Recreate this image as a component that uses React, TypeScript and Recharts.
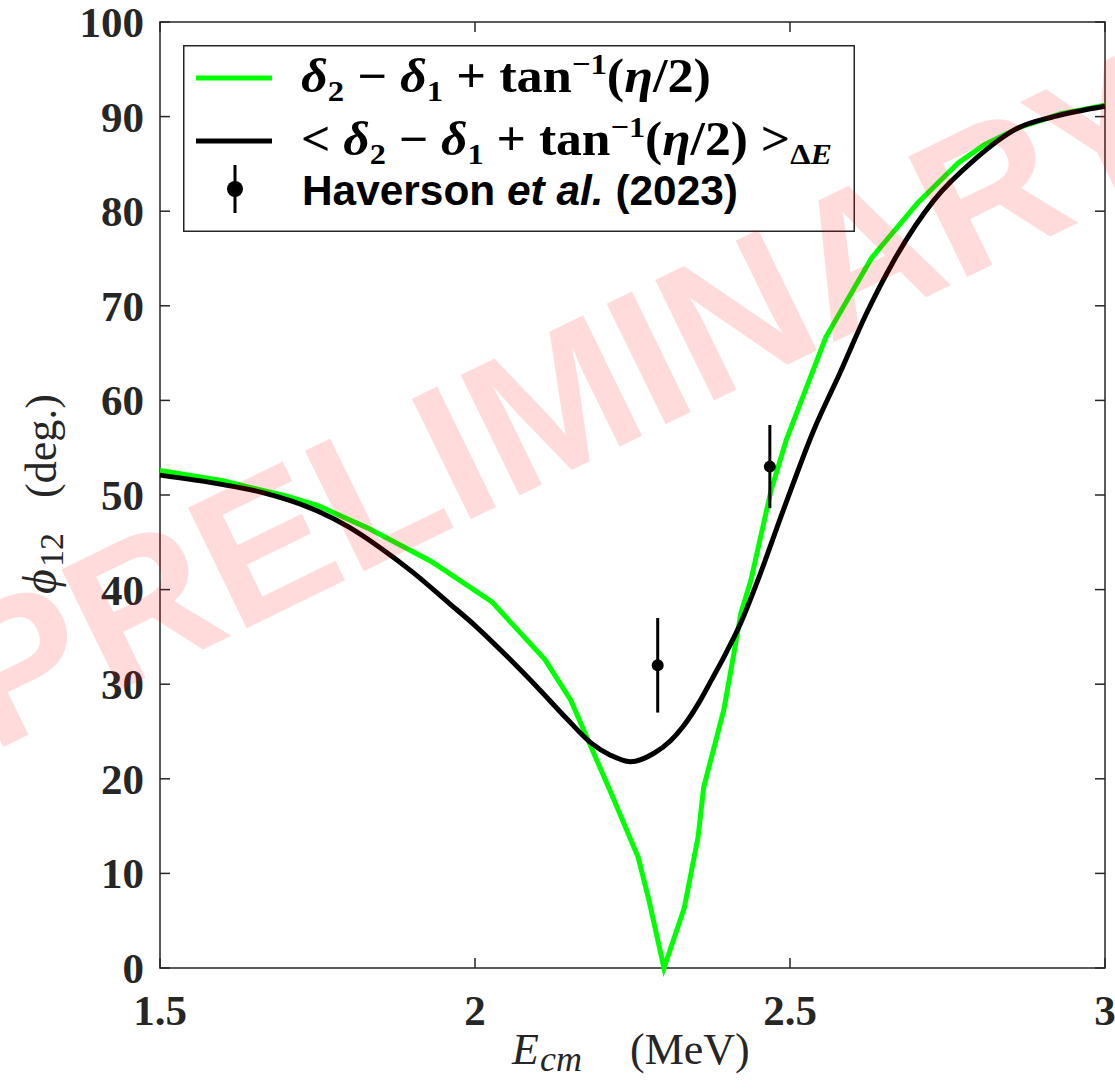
import React from 'react';
import { ComposedChart, Line, Scatter, ErrorBar, XAxis, YAxis, ReferenceArea, Legend } from 'recharts';

// ---- data ----
const greenE = [1.5, 1.6, 1.7, 1.75, 1.83, 1.93, 2.027, 2.111, 2.152, 2.216, 2.259, 2.276, 2.3, 2.332, 2.354, 2.363, 2.395, 2.41, 2.422, 2.438, 2.47, 2.494, 2.557, 2.63, 2.703, 2.767, 2.808, 2.862, 2.93, 3.0];
const greenPhi = [52.6, 51.5, 49.9, 48.9, 46.5, 43.0, 38.7, 32.6, 28.3, 18.5, 11.7, 7.2, 0, 6.3, 13.8, 19.1, 27.3, 32.9, 37.5, 41.0, 50.5, 55.8, 66.7, 75.1, 80.9, 85.1, 87.0, 88.8, 90.3, 91.2];

const avgE = [1.5, 1.6, 1.66, 1.75, 1.8, 1.85, 1.9, 1.96, 2.0, 2.05, 2.1, 2.145, 2.184, 2.215, 2.247, 2.284, 2.31, 2.33, 2.355, 2.375, 2.4, 2.422, 2.449, 2.49, 2.538, 2.58, 2.62, 2.665, 2.729, 2.792, 2.862, 2.919, 3.0];
const avgPhi = [52.1, 51.1, 50.3, 48.3, 46.6, 44.4, 41.9, 38.5, 36.2, 33.0, 29.6, 26.4, 23.8, 22.5, 21.8, 22.7, 24.0, 25.5, 28.0, 30.4, 33.5, 36.5, 41.0, 48.5, 56.9, 63.0, 69.0, 74.8, 81.2, 85.4, 88.8, 90.0, 91.1];

const expE = [2.29, 2.468];
const expPhi = [32, 53];
const expErr = [5, 4.4];

const xTicks = [1.5, 2, 2.5, 3];
const yTicks = [0, 10, 20, 30, 40, 50, 60, 70, 80, 90, 100];

const greenData = greenE.map((x, i) => ({ x, y: greenPhi[i] }));
const avgData = avgE.map((x, i) => ({ x, y: avgPhi[i] }));
const expData = expE.map((x, i) => ({ x, y: expPhi[i], err: expErr[i] }));

// ---- layout ----
const W = 1115;
const H = 1091;
const PLOT_LEFT = 160;
const PLOT_RIGHT = 1105;
const PLOT_TOP = 22;
const PLOT_BOTTOM = 968;
const AX = '#262626';
const TICK_LEN = 10;
const SERIF = '"Liberation Serif", "Times New Roman", serif';
const SANS = '"Liberation Sans", Arial, sans-serif';

const XTick = (props: any) => {
  const { x, y, payload } = props;
  return (
    <g>
      <line x1={x} x2={x} y1={PLOT_BOTTOM} y2={PLOT_BOTTOM - TICK_LEN} stroke={AX} strokeWidth={1.5} />
      <line x1={x} x2={x} y1={PLOT_TOP} y2={PLOT_TOP + TICK_LEN} stroke={AX} strokeWidth={1.5} />
      <text x={x} y={y + 57} textAnchor="middle" fontFamily={SERIF} fontWeight="bold" fontSize={43} fill={AX}>
        {String(payload.value)}
      </text>
    </g>
  );
};

const YTick = (props: any) => {
  const { x, y, payload } = props;
  return (
    <g>
      <line x1={PLOT_LEFT} x2={PLOT_LEFT + TICK_LEN} y1={y} y2={y} stroke={AX} strokeWidth={1.5} />
      <line x1={PLOT_RIGHT} x2={PLOT_RIGHT - TICK_LEN} y1={y} y2={y} stroke={AX} strokeWidth={1.5} />
      <text x={x - 16} y={y + 15} textAnchor="end" fontFamily={SERIF} fontWeight="bold" fontSize={43} fill={AX}>
        {String(payload.value)}
      </text>
    </g>
  );
};

const XLabel = () => (
  <text y={1064} fontFamily={SERIF} fontSize={44} fill={AX}>
    <tspan x={512} fontStyle="italic">E</tspan>
    <tspan x={540} fontStyle="italic" fontSize={36} dy={7}>cm</tspan>
    <tspan x={630} dy={-7}>(MeV)</tspan>
  </text>
);

const YLabel = () => (
  <text transform="translate(56, 594) rotate(-90)" x={0} y={0} fontFamily={SERIF} fontSize={44} fill={AX}>
    <tspan x={0} fontStyle="italic" fontSize={48}>ϕ</tspan>
    <tspan x={27} fontSize={34} dy={7}>12</tspan>
    <tspan x={96} dy={-7}>(deg.)</tspan>
  </text>
);

const Dot = (props: any) => <circle cx={props.cx} cy={props.cy} r={6} fill="#000" />;

const LegendBox = () => (
  <svg width={672} height={187} style={{ display: 'block' }}>
    <rect x={0.75} y={0.75} width={670.5} height={185.5} fill="#fff" stroke={AX} strokeWidth={1.5} />
    <line x1={13} x2={89} y1={33} y2={33} stroke="#00ff00" strokeWidth={5} />
    <text x={118} y={47} textLength={410} lengthAdjust="spacingAndGlyphs" fontFamily={SERIF} fontWeight="bold" fontSize={48} fill="#000">
      <tspan fontStyle="italic">δ</tspan>
      <tspan fontSize={30} dy={9}>2</tspan>
      <tspan dy={-9}>{' − '}</tspan>
      <tspan fontStyle="italic">δ</tspan>
      <tspan fontSize={30} dy={9}>1</tspan>
      <tspan dy={-9}>{' + tan'}</tspan>
      <tspan fontSize={30} dy={-18}>−1</tspan>
      <tspan dy={18}>(</tspan>
      <tspan fontStyle="italic">η</tspan>
      <tspan>/2)</tspan>
    </text>
    <line x1={13} x2={89} y1={96} y2={96} stroke="#000" strokeWidth={5} />
    <text x={118} y={110} textLength={531} lengthAdjust="spacingAndGlyphs" fontFamily={SERIF} fontWeight="bold" fontSize={48} fill="#000">
      <tspan>{'< '}</tspan>
      <tspan fontStyle="italic">δ</tspan>
      <tspan fontSize={30} dy={9}>2</tspan>
      <tspan dy={-9}>{' − '}</tspan>
      <tspan fontStyle="italic">δ</tspan>
      <tspan fontSize={30} dy={9}>1</tspan>
      <tspan dy={-9}>{' + tan'}</tspan>
      <tspan fontSize={30} dy={-18}>−1</tspan>
      <tspan dy={18}>(</tspan>
      <tspan fontStyle="italic">η</tspan>
      <tspan>{'/2) >'}</tspan>
      <tspan fontSize={30} dy={9}>Δ</tspan>
      <tspan fontSize={30} fontStyle="italic">E</tspan>
    </text>
    <line x1={52} x2={52} y1={120} y2={168} stroke="#000" strokeWidth={3} />
    <circle cx={52} cy={144} r={8} fill="#000" />
    <text x={119} y={160} textLength={436} lengthAdjust="spacingAndGlyphs" fontFamily={SANS} fontWeight="bold" fontSize={42} fill="#000">
      <tspan>{'Haverson '}</tspan>
      <tspan fontStyle="italic">et al.</tspan>
      <tspan>{' (2023)'}</tspan>
    </text>
  </svg>
);

export default function App() {
  return (
    <div style={{ position: 'absolute', left: 0, top: 0, width: W, height: H, overflow: 'hidden', background: '#fff' }}>
      <ComposedChart
        width={W}
        height={H}
        margin={{ top: PLOT_TOP, right: W - PLOT_RIGHT, bottom: 0, left: 0 }}
      >
        <XAxis
          dataKey="x"
          type="number"
          domain={[1.5, 3]}
          ticks={xTicks}
          height={H - PLOT_BOTTOM}
          axisLine={false}
          tickLine={false}
          tickSize={0}
          tickMargin={0}
          tick={<XTick />}
          interval={0}
          label={{ content: () => <XLabel /> }}
        />
        <YAxis
          dataKey="y"
          type="number"
          domain={[0, 100]}
          ticks={yTicks}
          width={PLOT_LEFT}
          axisLine={false}
          tickLine={false}
          tickSize={0}
          tickMargin={0}
          tick={<YTick />}
          interval={0}
          label={{ content: () => <YLabel /> }}
        />
        <ReferenceArea x1={1.5} x2={3} y1={0} y2={100} fill="none" fillOpacity={0} stroke={AX} strokeWidth={1.5} strokeOpacity={1} />
        <Line data={greenData} dataKey="y" type="linear" stroke="#00ff00" strokeWidth={5} dot={false} isAnimationActive={false} />
        <Line data={avgData} dataKey="y" type="monotone" stroke="#000000" strokeWidth={5} dot={false} isAnimationActive={false} />
        <Scatter data={expData} dataKey="y" fill="#000" shape={<Dot />} isAnimationActive={false}>
          <ErrorBar dataKey="err" direction="y" width={0} stroke="#000" strokeWidth={3} isAnimationActive={false} />
        </Scatter>
        <Legend
          layout="horizontal"
          verticalAlign="middle"
          align="center"
          content={() => <LegendBox />}
          wrapperStyle={{ left: 183, top: 45, width: 672, height: 187 }}
        />
      </ComposedChart>
      <svg
        width={W}
        height={H}
        style={{ position: 'absolute', left: 0, top: 0, pointerEvents: 'none' }}
      >
        <text
          transform="translate(592, 460) rotate(-26)"
          x={0}
          y={0}
          textAnchor="middle"
          fontFamily={SANS}
          fontWeight="bold"
          fontSize={195}
          fill="#ff0000"
          fillOpacity={0.14}
        >
          PRELIMINARY
        </text>
      </svg>
    </div>
  );
}
